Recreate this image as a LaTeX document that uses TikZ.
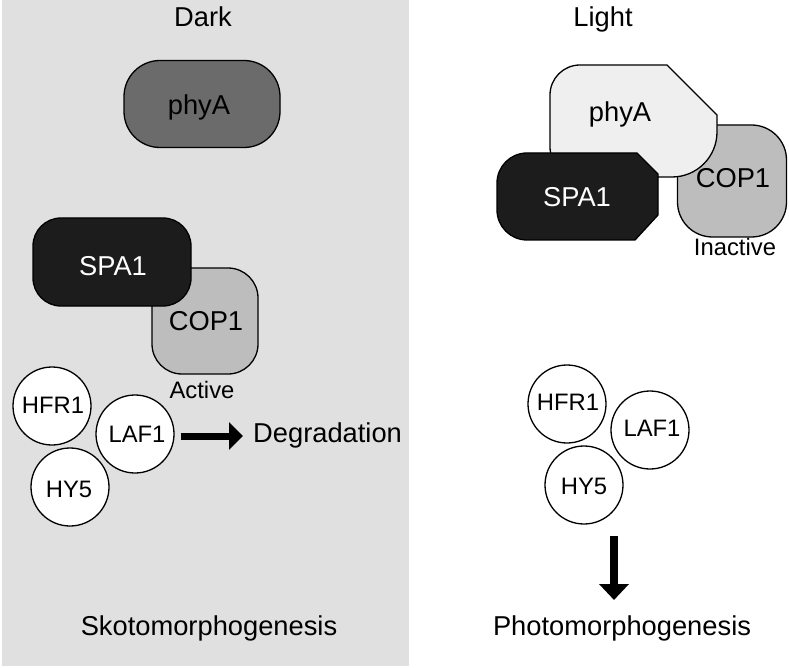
\documentclass[tikz,border=0pt]{standalone}
\usepackage{fontspec}
\setmainfont{Liberation Sans}
\usetikzlibrary{arrows.meta}
\definecolor{panelgray}{HTML}{E0E0E0}
\definecolor{phyAdark}{HTML}{6B6B6B}
\definecolor{phyAlight}{HTML}{EFEFEF}
\definecolor{spablack}{HTML}{1C1C1C}
\definecolor{copgray}{HTML}{BDBDBD}
\begin{document}
\begin{tikzpicture}[x=1pt,y=-1pt,
  outl/.style={draw=black,line width=1.3pt},
  big/.style={font=\fontsize{27.3}{31}\selectfont,inner sep=0pt,anchor=base},
  small/.style={font=\fontsize{23.8}{28}\selectfont,inner sep=0pt,anchor=base},
  tf/.style={circle,outl,fill=white,minimum size=78pt,inner sep=0pt},
  fatarrow/.style={line width=7pt,-{Triangle[length=14pt,width=27pt]}}
]
\useasboundingbox (0,0) rectangle (789,668);
\fill[white] (0,0) rectangle (789,668);
\fill[panelgray] (2,0) rectangle (409,666);

% ---------- Dark ----------
\node[big] (darkt) at (203,27) {Dark};
\node[outl,fill=phyAdark,rounded corners=36pt,minimum width=156pt,minimum height=87pt] (phyad) at (202,104) {};
\node[big] (phyadt) at (199,115) {phyA};
\node[outl,fill=copgray,rounded corners=30pt,minimum width=106pt,minimum height=106pt] (copd) at (205,321) {};
\node[outl,fill=spablack,rounded corners=28pt,minimum width=158pt,minimum height=88pt] (spad) at (112,262) {};
\node[big,text=white] (spadt) at (113,275) {SPA1};
\node[big] (copdt) at (206,330) {COP1};
\node[small] (active) at (202,398) {Active};
\node[tf] (hfrd) at (52,406) {};
\node[small] at (53,413) {HFR1};
\node[tf] (laf1d) at (135,434) {};
\node[small] at (137,442) {LAF1};
\node[tf] (hy5d) at (70,487) {};
\node[small] at (69,497) {HY5};
\node[big,anchor=base west] (deg) at (253,442) {Degradation};
\draw[fatarrow,shorten <=6pt,shorten >=10pt] (laf1d.east |- 0,436) -- (deg.west |- 0,436);
\node[big] (skoto) at (209,635) {Skotomorphogenesis};

% ---------- Light ----------
\node[big] (lightt) at (603,27) {Light};
\node[outl,fill=copgray,rounded corners=35pt,minimum width=109pt,minimum height=112pt] (copl) at (732,181) {};
\draw[outl,fill=phyAlight] (550,95) arc[start angle=180,end angle=270,radius=30]
  -- (667,65) -- (717,115) -- (717,132)
  arc[start angle=0,end angle=90,radius=45]
  -- (580,177) arc[start angle=90,end angle=180,radius=30] -- cycle;
\node[big] (phyalt) at (620,122) {phyA};
\draw[outl,fill=spablack] (497,183) arc[start angle=180,end angle=270,radius=30]
  -- (637,153) -- (658,174) -- (658,215) -- (635,240) -- (527,240)
  arc[start angle=90,end angle=180,radius=30] -- cycle;
\node[big,text=white] (spalt) at (577,207) {SPA1};
\node[big] (coplt) at (733,188) {COP1};
\node[small] (inactive) at (735,255) {Inactive};
\node[tf] (hfrl) at (567,404) {};
\node[small] at (568,410) {HFR1};
\node[tf] (laf1l) at (650,430) {};
\node[small] at (652,436) {LAF1};
\node[tf] (hy5l) at (584,485) {};
\node[small] at (584,494) {HY5};
\coordinate (la1) at (614,536);
\coordinate (la2) at (614,600);
\draw[fatarrow,line width=8pt,-{Triangle[length=16pt,width=29pt]}] (la1) -- (la2);
\node[big] (photo) at (622,635) {Photomorphogenesis};
\end{tikzpicture}
\end{document}
